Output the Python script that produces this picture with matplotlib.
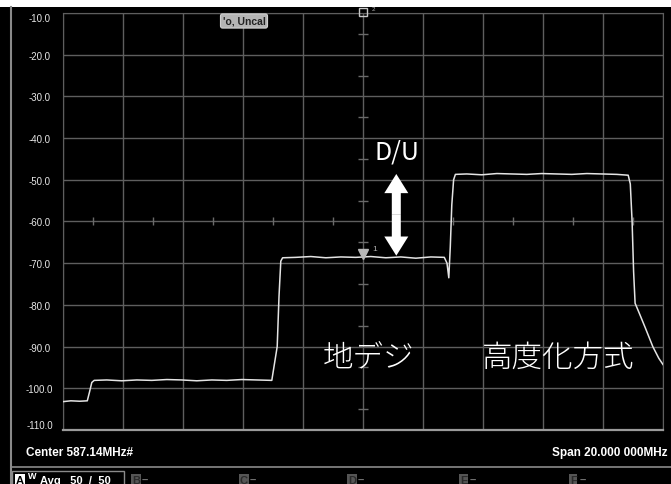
import matplotlib.pyplot as plt
from matplotlib.patches import Rectangle

plt.rcParams['font.family'] = ['Liberation Sans', 'DejaVu Sans']

# spectrum analyzer settings
center_mhz = 587.14
span_mhz = 20.0
ref_levels = [-10, -20, -30, -40, -50, -60, -70, -80, -90, -100, -110]
ytick_labels = ["-10.0", "-20.0", "-30.0", "-40.0", "-50.0", "-60.0",
                "-70.0", "-80.0", "-90.0", "-100.0", "-110.0"]

# trace (MHz, dBm)
freq = [577.14, 577.40, 577.70, 577.95, 578.02, 578.10, 578.18,
        578.60, 579.10, 579.60, 580.10, 580.60, 581.10, 581.60, 582.10,
        582.60, 583.10, 583.60, 584.10, 584.28, 584.34, 584.40, 584.46,
        584.90, 585.40, 585.90, 586.40, 586.90, 587.40, 587.90, 588.40,
        588.90, 589.40, 589.85, 589.94, 590.00, 590.05, 590.10, 590.16,
        590.22, 590.60, 591.10, 591.60, 592.10, 592.60, 593.10, 593.60,
        594.10, 594.60, 595.10, 595.60, 595.98, 596.05, 596.11, 596.16,
        596.21, 596.35, 596.55, 596.80, 597.00, 597.14]
level = [-103.2, -103.0, -103.1, -103.0, -101.0, -98.6, -98.1,
         -98.0, -98.2, -98.0, -98.1, -97.9, -98.0, -98.2, -98.0,
         -98.1, -97.9, -98.0, -98.1, -90.0, -78.0, -69.5, -68.7,
         -68.6, -68.4, -68.7, -68.5, -68.6, -68.4, -68.7, -68.5,
         -68.8, -68.5, -68.6, -70.0, -73.5, -66.0, -56.0, -50.0,
         -48.7, -48.6, -48.8, -48.5, -48.6, -48.7, -48.5, -48.6,
         -48.7, -48.5, -48.6, -48.7, -48.9, -51.0, -60.0, -72.0,
         -79.6, -82.0, -85.5, -90.0, -92.8, -94.3]

# center cross minor ticks
cross_freq = [578.14, 580.14, 582.14, 584.14, 586.14, 588.14, 590.14,
              592.14, 594.14, 596.14]
cross_level = [-15, -25, -35, -45, -55, -65, -75, -85, -95, -105]

# D/U arrow: x position and the two levels it spans
du_freq = 588.25
du_top, du_bottom = -48.6, -68.2

W, H = 671, 485
fig = plt.figure(figsize=(W / 100, H / 100), dpi=100, facecolor='black')


def fx(px):
    return px / W


def fy(py):
    return 1 - py / H


# white strip on top of the screenshot
fig.patches.append(Rectangle((0, fy(8)), 1, 8 / H, transform=fig.transFigure,
                             facecolor='white', edgecolor='none', zorder=0))
# left frame line and bottom separator
fig.add_artist(plt.Line2D([fx(11), fx(11)], [0, fy(8)], color='#8a8a8a', lw=1.5))
fig.add_artist(plt.Line2D([fx(11), 1], [fy(468), fy(468)], color='#8a8a8a', lw=1.2))

ax = fig.add_axes([fx(63), fy(431), fx(663) - fx(63), (431 - 14) / H])
ax.set_facecolor('black')
f0 = center_mhz - span_mhz / 2
ax.set_xlim(f0, f0 + span_mhz)
ax.set_ylim(-110, -10)
ax.set_xticks([f0 + 2 * i for i in range(11)])
ax.set_xticklabels([])
ax.set_yticks(ref_levels)
ax.set_yticklabels(ytick_labels)
ax.tick_params(axis='x', length=0)
ax.tick_params(axis='y', length=0, pad=17, labelsize=7, labelcolor='#e6e6e6')
for lab in ax.get_yticklabels():
    lab.set_ha('center')
ax.get_yticklabels()[0].set_va('top')
ax.get_yticklabels()[-1].set_va('bottom')
ax.grid(True, color='#5e5e5e', lw=1)
for side in ['left', 'right', 'top']:
    ax.spines[side].set_color('#5e5e5e')
ax.spines['bottom'].set_color('#9a9a9a')
ax.spines['bottom'].set_linewidth(1.6)

# center cross ticks
ax.plot([center_mhz] * len(cross_level), cross_level, ls='none', marker='_',
        ms=7, color='#6a6a6a', mew=1)
ax.plot(cross_freq, [-60] * len(cross_freq), ls='none', marker='|',
        ms=6, color='#6a6a6a', mew=1)

# trace
ax.plot(freq, level, color='#e4e4e4', lw=1.1, zorder=5)

# markers
ax.plot([center_mhz], [-67.9], marker='v', ms=7, color='#b8b8b8', ls='none', zorder=6)
ax.text(center_mhz + 0.3, -66.4, "1", color='#b0b0b0', fontsize=6, va='center')
ax.plot([center_mhz], [-9.8], marker='s', ms=6, mfc='none', mec='#c8c8c8',
        ls='none', clip_on=False, zorder=6)
ax.text(center_mhz + 0.3, -8.9, "2", color='#b0b0b0', fontsize=4.5, va='center')

# D/U double arrow, drawn as two arrows from the middle outward
du_mid = (du_top + du_bottom) / 2
for tip in (du_top, du_bottom):
    ax.arrow(du_freq, du_mid, 0, tip - du_mid, width=0.3, head_width=0.8,
             head_length=4.6, length_includes_head=True, color='white',
             lw=0, zorder=7)

jp = ['Noto Sans CJK JP', 'DejaVu Sans']
ax.text(588.27, -43.2, "D/U", color='white', fontsize=18, family=jp,
        ha='center', va='center')
ax.text(587.31, -92.4, "地デジ", color='white', fontsize=22, family=jp,
        weight='light', ha='center', va='center')
ax.text(593.64, -92.4, "高度化方式", color='white', fontsize=22, family=jp,
        weight='light', ha='center', va='center')

# status texts
fig.text(fx(244), fy(22), "'o, Uncal", fontsize=7.5, weight='bold', color='#222222',
         ha='center', va='center',
         bbox=dict(boxstyle='round,pad=0.2', fc='#b4b4b4', ec='#d0d0d0', lw=0.8))
fig.text(fx(26), fy(453), "Center 587.14MHz#", fontsize=8.5, weight='bold',
         color='white', ha='left', va='center')
fig.text(fx(667), fy(453), "Span 20.000 000MHz", fontsize=8.5, weight='bold',
         color='white', ha='right', va='center')

# trace status row (cut off at the bottom)
fig.patches.append(Rectangle((fx(12), fy(492)), fx(124) - fx(12), 20 / H,
                             transform=fig.transFigure, facecolor='none',
                             edgecolor='#8a8a8a', lw=1))
fig.text(fx(16), fy(481), "A", fontsize=8, weight='bold', color='black',
         ha='left', va='center',
         bbox=dict(boxstyle='square,pad=0.05', fc='white', ec='none'))
fig.text(fx(28), fy(477), "W", fontsize=6.5, weight='bold', color='white',
         ha='left', va='center')
fig.text(fx(40), fy(481), "Avg   50  /  50", fontsize=8, weight='bold',
         color='white', ha='left', va='center')
for letter, px in zip("BCDEF", [132, 240, 348, 460, 570]):
    fig.text(fx(px), fy(481), letter, fontsize=8, weight='bold', color='#2a2a2a',
             ha='left', va='center',
             bbox=dict(boxstyle='square,pad=0.05', fc='#555555', ec='none'))
    fig.text(fx(px + 10), fy(481), "–", fontsize=8, weight='bold',
             color='#777777', ha='left', va='center')

fig.savefig("out.png", dpi=100, facecolor='black')
